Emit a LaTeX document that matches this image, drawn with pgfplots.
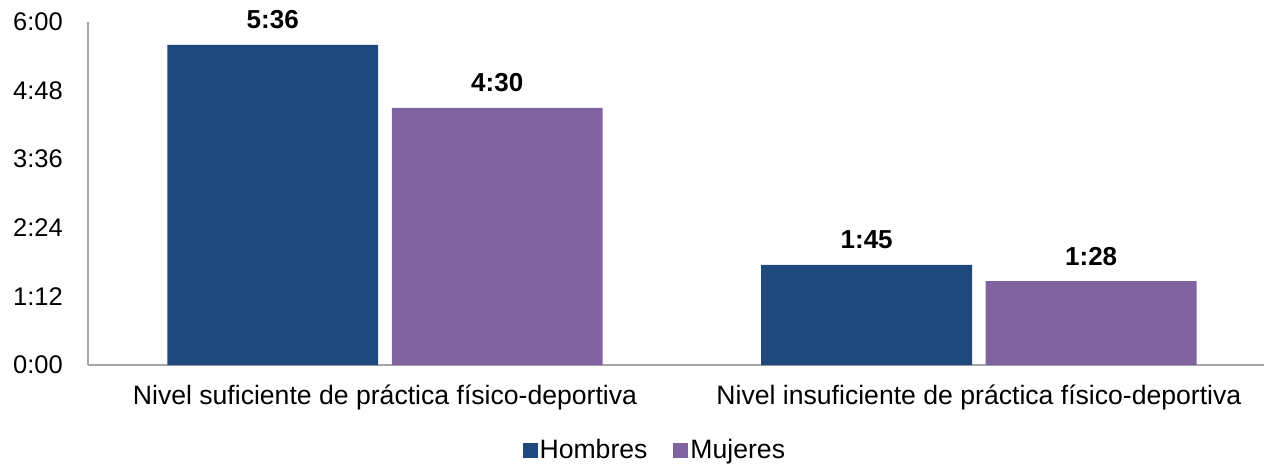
\documentclass[border=0pt]{standalone}
\usepackage{fontspec}
\setmainfont{Liberation Sans}
\usepackage{pgfplots}
\pgfplotsset{compat=1.18}
\definecolor{hombres}{HTML}{1F497D}
\definecolor{mujeres}{HTML}{8064A2}
\definecolor{ejegris}{HTML}{A6A6A6}
\newcommand{\chartfont}{\fontsize{25.5bp}{30bp}\selectfont}
\newcommand{\catfont}{\fontsize{26.6bp}{31bp}\selectfont}
\begin{document}
\begin{tikzpicture}
\useasboundingbox (-88bp,-99bp) rectangle (1176bp,365bp);
\begin{axis}[
  at={(0,0)}, anchor=south west,
  scale only axis,
  width=1176bp, height=343bp,
  xmin=-0.5, xmax=1.48,
  ymin=0, ymax=360,
  axis x line=bottom, axis y line=left,
  axis line style={-, draw=ejegris, line width=1.2bp},
  major tick length=0pt,
  ytick={0,72,144,216,288,360},
  yticklabels={0:00,1:12,2:24,3:36,4:48,6:00},
  xtick={0,1},
  xticklabels={Nivel suficiente de práctica físico-deportiva,Nivel insuficiente de práctica físico-deportiva},
  /pgf/number format/assume math mode=true,
  tick label style={font=\chartfont, inner sep=0pt},
  yticklabel style={anchor=east, xshift=-25bp},
  xticklabel style={font=\catfont, anchor=base, yshift=-39bp},
  ybar, bar width=0.355,
  point meta=explicit symbolic,
  nodes near coords={\textbf{\pgfplotspointmeta}},
  every node near coord/.append style={font=\fontsize{26bp}{30bp}\selectfont, anchor=base, inner sep=0pt, yshift=16bp},
  legend style={at={(0.482,-0.248)}, anchor=center, draw=none, fill=none,
    font=\catfont, legend columns=2,
    /tikz/every even column/.append style={column sep=24bp}},
  legend image code/.code={\fill[#1] (0bp,-7.5bp) rectangle (15bp,7.5bp);},
]
\addplot[fill=hombres, draw=none, bar shift=-0.189] coordinates {(0,336) [5:36] (1,105) [1:45]};
\addplot[fill=mujeres, draw=none, bar shift=0.189] coordinates {(0,270) [4:30] (1,88) [1:28]};
\legend{Hombres,Mujeres}
\end{axis}
\end{tikzpicture}
\end{document}
